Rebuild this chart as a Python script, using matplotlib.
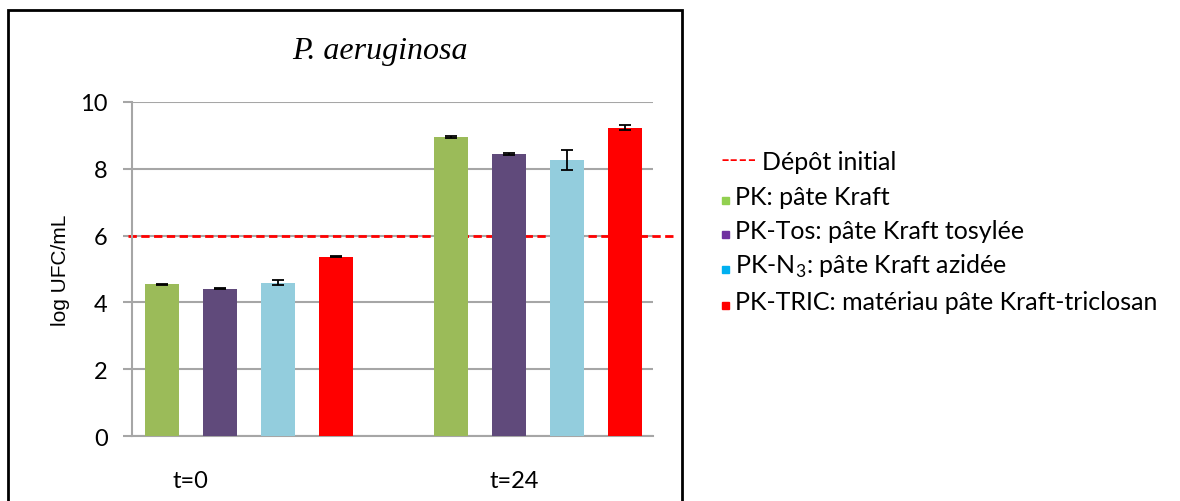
import matplotlib
matplotlib.use("Agg")
import matplotlib.pyplot as plt
from matplotlib.patches import Rectangle
import numpy as np

# data
groups = ["t=0", "t=24"]
series = ["PK", "PK-Tos", "PK-N3", "PK-TRIC"]
pk = [4.54, 8.95]
pk_tos = [4.41, 8.43]
pk_n3 = [4.59, 8.26]
pk_tric = [5.37, 9.22]
pk_err = [0.02, 0.02]
pk_tos_err = [0.02, 0.03]
pk_n3_err = [0.07, 0.31]
pk_tric_err = [0.02, 0.08]
initial_deposit = 6.0
legend_labels = [
    "PK: pâte Kraft",
    "PK-Tos: pâte Kraft tosylée",
    "PK-N$_\\mathregular{3}$: pâte Kraft azidée",
    "PK-TRIC: matériau pâte Kraft-triclosan",
]

bar_colors = ["#9BBB59", "#604A7B", "#93CDDD", "#FF0000"]
marker_colors = ["#92D050", "#7030A0", "#00B0F0", "#FF0000"]

plt.rcParams["font.family"] = ["Lato", "DejaVu Sans"]

W, H = 1180, 502
fig = plt.figure(figsize=(W / 100, H / 100), dpi=100)
ax = fig.add_axes([132 / W, 1 - 437.3 / H, (653 - 132) / W, (437.3 - 102.7) / H])

x = np.arange(len(groups))
offsets = [-0.3, -0.1, 0.1, 0.3]
values = [pk, pk_tos, pk_n3, pk_tric]
errors = [pk_err, pk_tos_err, pk_n3_err, pk_tric_err]
for off, vals, errs, col in zip(offsets, values, errors, bar_colors):
    ax.bar(x + off, vals, width=0.118, color=col, zorder=3)
    ax.errorbar(x + off, vals, yerr=errs, fmt="none", ecolor="black",
                elinewidth=1.3, capsize=4.5, capthick=1.3, zorder=4)

# dashed line for the initial deposit, runs past the plot area
ax.plot([-0.419, 1.474], [initial_deposit, initial_deposit], color="#FF0000",
        lw=2, dashes=(3, 1.6), clip_on=False, zorder=2)

ax.set_xlim(-0.405, 1.398)
ax.set_ylim(0, 10)
ax.set_yticks([0, 2, 4, 6, 8, 10])
ax.grid(axis="y", color="#A6A6A6", lw=1.5, zorder=0)
ax.tick_params(axis="y", length=6.5, width=1.5, color="#A6A6A6", pad=11,
               labelsize=17)
ax.set_xticks([-0.204, 0.917])
ax.set_xticklabels(groups)
ax.tick_params(axis="x", length=0, pad=24, labelsize=17)
for s in ["top", "right"]:
    ax.spines[s].set_visible(False)
for s in ["left", "bottom"]:
    ax.spines[s].set_color("#A6A6A6")
    ax.spines[s].set_linewidth(1.5)

fig.text(61 / W, 1 - 270 / H, "log UFC/mL", fontsize=15, rotation=90,
         family="Liberation Sans", ha="center", va="center")

fig.text(380 / W, 1 - 51 / H, "P. aeruginosa", fontsize=23, style="italic",
         family="Liberation Serif", ha="center", va="center")

# outer frame of the chart
fig.patches.append(Rectangle((8 / W, -0.05), (682 - 8) / W, 1.05 - 11 / H,
                             transform=fig.transFigure, fill=False,
                             edgecolor="black", lw=2))

# text legend to the right
fig.text(721 / W, 1 - 168 / H, "----", color="#FF0000", fontsize=18,
         va="baseline")
fig.text(762 / W, 1 - 170 / H, "Dépôt initial", fontsize=18, va="baseline")
baselines = [205, 239, 274, 310]
for y, lab, col in zip(baselines, legend_labels, marker_colors):
    fig.patches.append(Rectangle((722 / W, 1 - y / H), 7 / W, 7 / H,
                                 transform=fig.transFigure, color=col))
    fig.text(735 / W, 1 - y / H, lab, fontsize=18, va="baseline")

fig.savefig("out.png", dpi=100)
